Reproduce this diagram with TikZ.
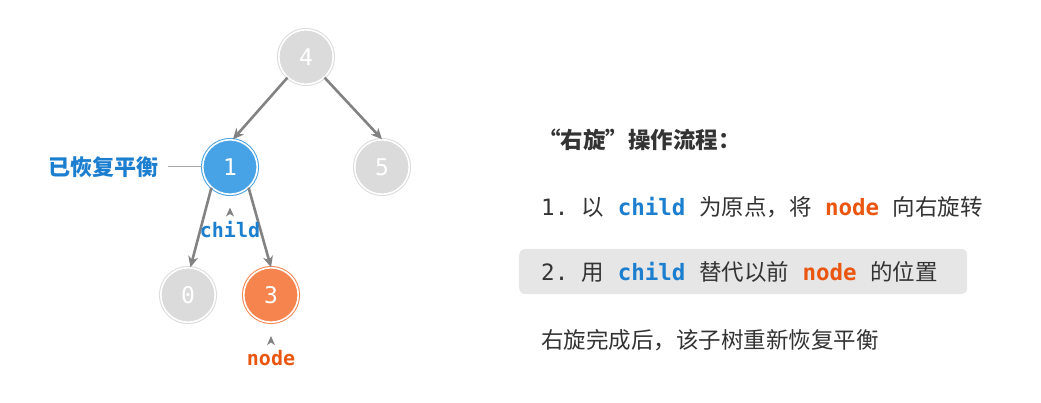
\documentclass[tikz,border=0pt]{standalone}
\usepackage{fontspec}
\usetikzlibrary{arrows.meta}
\setmainfont{Noto Sans CJK SC}
\newfontfamily\codefont{DejaVu Sans Mono}
\definecolor{grayfill}{HTML}{DBDBDB}
\definecolor{bluefill}{HTML}{47A3E6}
\definecolor{bluetext}{HTML}{1B7ECF}
\definecolor{orangefill}{HTML}{F5844F}
\definecolor{orangetext}{HTML}{EA560F}
\definecolor{edgegray}{HTML}{828282}
\definecolor{textgray}{HTML}{333333}
\definecolor{boxgray}{HTML}{E6E6E6}
\newcommand\gap{\hspace{0.6em}}
\newcommand\childword{{\codefont\bfseries\textcolor{bluetext}{child}}}
\newcommand\nodeword{{\codefont\bfseries\textcolor{orangetext}{node}}}
\begin{document}
\begin{tikzpicture}[x=1pt,y=-1pt,>={Stealth[length=11pt,width=10pt,inset=3.5pt]},
	treenode/.style={circle,minimum size=54.5pt,inner sep=0pt,fill=#1,draw=#1,line width=1pt,double=white,double distance=1.6pt,text=white,font=\codefont\fontsize{23}{23}\selectfont},
	edge/.style={->,draw=edgegray,line width=2.6pt},
	txt/.style={anchor=west,inner sep=0pt,text=textgray,font=\fontsize{22.5}{27}\selectfont},
	tag/.style={inner sep=0pt,font=\codefont\bfseries\fontsize{20}{20}\selectfont}]
	\useasboundingbox (0,0) rectangle (1041,403);
	\node[treenode=grayfill] (n4) at (306,57) {4};
	\node[treenode=bluefill] (n1) at (230,167) {1};
	\node[treenode=grayfill] (n5) at (382,167) {5};
	\node[treenode=grayfill] (n0) at (188,295) {0};
	\node[treenode=orangefill] (n3) at (271,295) {3};
	\draw[edge] (n4.228) -- (n1.84);
	\draw[edge] (n4.312) -- (n5.north);
	\draw[edge] (n1.228) -- (n0.85);
	\draw[edge] (n1.312) -- (n3.north);
	\node[font=\bfseries\fontsize{22}{22}\selectfont,text=bluetext,inner sep=0pt] (balanced) at (103,167) {已恢复平衡};
	\draw[draw=gray!70,line width=1pt,shorten <=10pt] (balanced.east) -- (n1.west);
	\node[tag,text=bluetext] (childtag) at (230,230) {child};
	\node[tag,text=orangetext] (nodetag) at (271,358) {node};
	\fill[edgegray] (childtag.north) ++(-4,-5) -- ++(4,-9) -- ++(4,9) -- ++(-4,-2.5) -- cycle;
	\fill[edgegray] (nodetag.north) ++(-4,-5) -- ++(4,-9) -- ++(4,9) -- ++(-4,-2.5) -- cycle;
	\node[txt,font=\bfseries\fontsize{22.5}{27}\selectfont] (title) at (538,140) {“右旋”操作流程：};
	\node[txt] (step1) at (541,207) {{\codefont 1.}\gap 以\gap\childword\gap 为原点，将\gap\nodeword\gap 向右旋转};
	\node[txt,fill=boxgray,rounded corners=6pt,inner xsep=22pt,minimum height=45pt,text width=404pt,align=left] (step2) at (519,271.5) {{\codefont 2.}\gap 用\gap\childword\gap 替代以前\gap\nodeword\gap 的位置};
	\node[txt] (done) at (541,340) {右旋完成后，该子树重新恢复平衡};
\end{tikzpicture}
\end{document}
